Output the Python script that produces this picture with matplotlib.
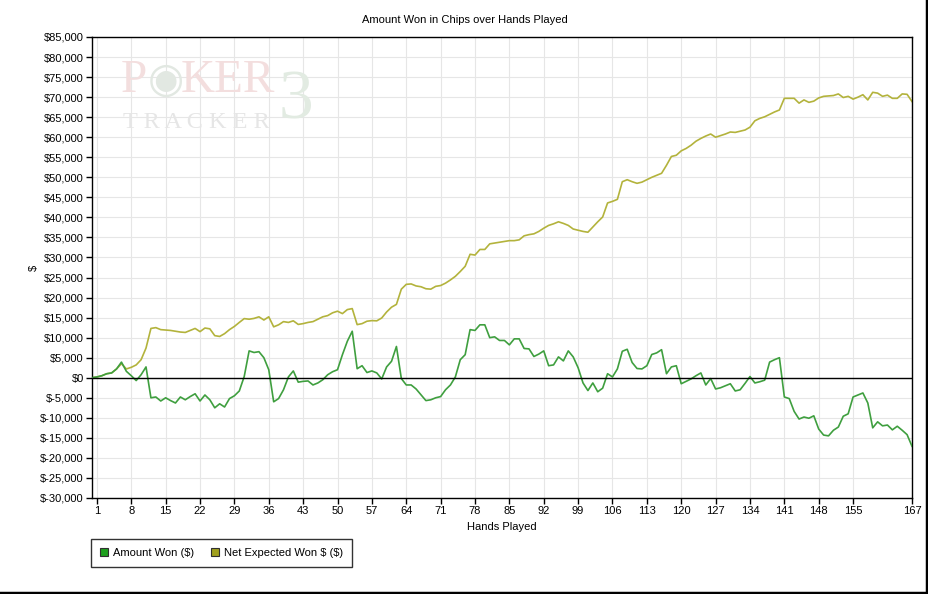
import matplotlib
matplotlib.use('Agg')
import matplotlib.pyplot as plt
from matplotlib.lines import Line2D
import numpy as np

plt.rcParams['font.family'] = ['Liberation Sans', 'DejaVu Sans']
plt.rcParams['font.size'] = 8
plt.rcParams['text.parse_math'] = False

# values in thousands of dollars, hands 0..167
amount_won = [
    0, 0.2, 0.5, 1.0, 1.2, 2.2, 3.9, 1.6, 0.5, -0.7,
    0.75, 2.7, -5, -4.8, -5.8, -5, -5.7, -6.3, -4.8, -5.5,
    -4.7, -4, -5.8, -4.3, -5.5, -7.5, -6.5, -7.3, -5.2, -4.5,
    -3.3, 0.3, 6.7, 6.3, 6.5, 5, 2, -6, -5.2, -3,
    0.2, 1.7, -1.1, -0.9, -0.8, -1.8, -1.3, -0.5, 0.75, 1.5,
    2.0, 5.75, 9.1, 11.6, 2.25, 3.0, 1.3, 1.7, 1.2, -0.3,
    2.7, 4.1, 7.8, -0.2, -1.8, -1.8, -2.8, -4.25, -5.7, -5.5,
    -5, -4.7, -3, -1.8, 0.2, 4.5, 5.75, 12, 11.8, 13.2,
    13.2, 10, 10.2, 9.3, 9.3, 8.2, 9.7, 9.7, 7.3, 7.2,
    5.3, 5.9, 6.7, 3.0, 3.2, 5.2, 4.2, 6.7, 5.2, 2.5,
    -1.3, -3.2, -1.3, -3.5, -2.6, 1.0, 0.2, 2.2, 6.6, 7.1,
    3.8, 2.3, 2.2, 3.0, 5.8, 6.2, 7.0, 1.0, 2.7, 3.0,
    -1.5, -0.9, -0.3, 0.5, 1.2, -1.8, -0.2, -2.8, -2.5, -2.0,
    -1.5, -3.3, -3.0, -1.4, 0.3, -1.3, -1.0, -0.6, 3.9, 4.5,
    5.0, -4.8, -5.2, -8.4, -10.3, -9.8, -10.1, -9.5, -12.8, -14.3,
    -14.5, -13.1, -12.3, -9.6, -9.0, -4.8, -4.3, -3.8, -6.3, -12.5,
    -11.0, -12.0, -11.8, -13.0, -12.1, -13.1, -14.2, -17.1,
]

net_expected = [
    0, 0.2, 0.5, 1.0, 1.2, 2.2, 3.5, 2.2, 2.6, 3.2,
    4.5, 7.4, 12.3, 12.5, 12.0, 11.9, 11.8, 11.6, 11.4, 11.3,
    11.8, 12.3, 11.5, 12.4, 12.2, 10.5, 10.3, 11.0, 12.0, 12.8,
    13.8, 14.75, 14.6, 14.8, 15.2, 14.4, 15.2, 12.7, 13.2, 14.0,
    13.8, 14.2, 13.3, 13.5, 13.8, 14.0, 14.6, 15.2, 15.5, 16.2,
    16.6, 16.0, 17.0, 17.25, 13.25, 13.5, 14.1, 14.25, 14.2, 14.9,
    16.4, 17.6, 18.3, 22.1, 23.3, 23.4, 22.9, 22.7, 22.2, 22.1,
    22.8, 23.0, 23.6, 24.4, 25.3, 26.5, 27.8, 30.8, 30.6, 32.0,
    32.0, 33.4, 33.6, 33.8, 34.0, 34.2, 34.2, 34.4, 35.4, 35.7,
    35.9, 36.5, 37.3, 38.0, 38.4, 38.9, 38.5, 38.0, 37.1, 36.8,
    36.5, 36.3, 37.6, 38.9, 40.1, 43.6, 44.0, 44.5, 48.9, 49.4,
    48.9, 48.5, 48.8, 49.4, 50.0, 50.5, 51.0, 53.0, 55.2, 55.5,
    56.6, 57.2, 58.0, 59.0, 59.7, 60.3, 60.8, 60.0, 60.4, 60.8,
    61.3, 61.2, 61.5, 61.8, 62.5, 64.1, 64.7, 65.1, 65.7, 66.3,
    66.8, 69.7, 69.7, 69.7, 68.5, 69.3, 68.7, 69.0, 69.8, 70.2,
    70.3, 70.4, 70.8, 69.9, 70.2, 69.5, 70.0, 70.6, 69.3, 71.2,
    71.0, 70.2, 70.5, 69.7, 69.7, 70.8, 70.7, 68.9,
]

hands = list(range(len(amount_won)))
x_ticks = [1, 8, 15, 22, 29, 36, 43, 50, 57, 64, 71, 78, 85, 92, 99,
           106, 113, 120, 127, 134, 141, 148, 155, 167]
y_ticks = list(range(-30000, 85001, 5000))

series_names = ['Amount Won ($)', 'Net Expected Won $ ($)']
line_colors = ['#3f9f3f', '#b3b33c']
legend_colors = ['#1ea01e', '#a0a01e']


def money(v, pos=None):
    return '$' + format(int(v), ',')


fig = plt.figure(figsize=(9.29, 5.94), dpi=100)
ax = fig.add_axes([92 / 929, 1 - 498 / 594, 820 / 929, 461 / 594])

ax.plot(hands, np.array(amount_won) * 1000, color=line_colors[0], lw=1.2, zorder=3)
ax.plot(hands, np.array(net_expected) * 1000, color=line_colors[1], lw=1.2, zorder=2)
ax.axhline(0, color='black', lw=1, zorder=4)

ax.set_xlim(0, 167)
ax.set_ylim(-30000, 85000)
ax.set_xticks(x_ticks)
ax.set_yticks(y_ticks)
ax.yaxis.set_major_formatter(plt.FuncFormatter(money))
ax.grid(True, color='#e6e6e6', lw=0.8)
ax.set_axisbelow(True)
ax.tick_params(direction='out', length=4, width=1, colors='black', pad=2, labelsize=8)
for s in ax.spines.values():
    s.set_color('black')
    s.set_linewidth(1)

ax.set_xlabel('Hands Played', fontsize=8, labelpad=4)
ax.set_ylabel('$', fontsize=8, labelpad=1)
fig.text(0.5, 1 - 20 / 594, 'Amount Won in Chips over Hands Played',
         ha='center', va='center', fontsize=8)

# faded watermark
ax.text(0.035, 0.905, 'P', transform=ax.transAxes, fontsize=34, family='Liberation Serif',
        color='#f3dede', va='center', ha='left', zorder=1)
ax.text(0.068, 0.905, '\u25c9', transform=ax.transAxes, fontsize=30,
        color='#e2e8e2', va='center', ha='left', zorder=1)
ax.text(0.108, 0.905, 'KER', transform=ax.transAxes, fontsize=34, family='Liberation Serif',
        color='#f3dede', va='center', ha='left', zorder=1)
ax.text(0.038, 0.815, 'T R A C K E R', transform=ax.transAxes, fontsize=17.5,
        family='Liberation Serif', color='#e6e6e6', va='center', ha='left', zorder=1)
ax.text(0.228, 0.86, '3', transform=ax.transAxes, fontsize=50, family='Liberation Serif',
        color='#e2ebe2', va='center', ha='left', zorder=1)

handles = [Line2D([], [], ls='none', marker='s', markersize=6, markerfacecolor=c,
                  markeredgecolor='#303030', markeredgewidth=0.8) for c in legend_colors]
leg = fig.legend(handles, series_names, loc='upper left', ncol=2,
                 bbox_to_anchor=(91 / 929, 1 - 539 / 594), frameon=True, fancybox=False,
                 edgecolor='black', fontsize=8, handlelength=0.8, handletextpad=0.4,
                 columnspacing=1.5, borderpad=0.8, borderaxespad=0)
leg.get_frame().set_linewidth(1)

# frame shadow on right and bottom of the image
fig.add_artist(Line2D([0.9975, 0.9975], [0, 1], color='black', lw=2.5,
                      transform=fig.transFigure))
fig.add_artist(Line2D([0, 1], [0.0025, 0.0025], color='black', lw=2.5,
                      transform=fig.transFigure))

fig.savefig('out.png', dpi=100)
